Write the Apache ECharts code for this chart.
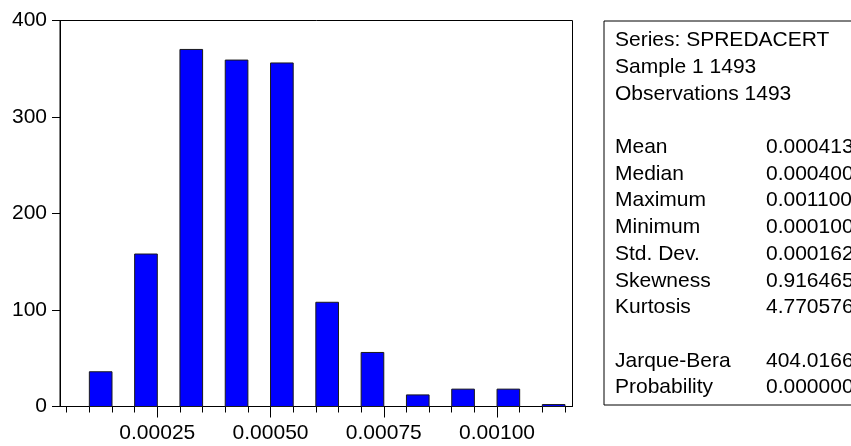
<!DOCTYPE html>
<html>
<head>
<meta charset="utf-8">
<script src="https://cdn.jsdelivr.net/npm/echarts@6/dist/echarts.min.js"></script>
<style>
html,body{margin:0;padding:0;background:#fff;}
#chart{width:851px;height:446px;}
</style>
</head>
<body>
<div id="chart"></div>
<script>
// Histogram bins (left edge of each bin) and counts
const binStarts = [0.0001, 0.0002, 0.0003, 0.0004, 0.0005, 0.0006, 0.0007, 0.0008, 0.0009, 0.0010, 0.0011];
const counts    = [36, 158, 370, 359, 356, 108, 56, 12, 18, 18, 2];
const binWidth  = 0.00005;

// Axis ticks
const xMinorTicks = [0.00005, 0.0001, 0.00015, 0.0002, 0.00025, 0.0003, 0.00035, 0.0004, 0.00045, 0.0005,
                     0.00055, 0.0006, 0.00065, 0.0007, 0.00075, 0.0008, 0.00085, 0.0009, 0.00095, 0.001,
                     0.00105, 0.0011, 0.00115];
const xTickLabels = [0.00025, 0.0005, 0.00075, 0.001];
const yTicks = [0, 100, 200, 300, 400];

// Statistics panel
const headerLines = ['Series: SPREDACERT', 'Sample 1 1493', 'Observations 1493'];
const statNames  = ['Mean', 'Median', 'Maximum', 'Minimum', 'Std. Dev.', 'Skewness', 'Kurtosis'];
const statValues = ['0.000413', '0.000400', '0.001100', '0.000100', '0.000162', '0.916465', '4.770576'];
const testNames  = ['Jarque-Bera', 'Probability'];
const testValues = ['404.0166', '0.000000'];

const FONT = '"Liberation Sans", Arial, sans-serif';
const FS = 21;

const chart = echarts.init(document.getElementById('chart'), null, {renderer: 'canvas'});

const barData = binStarts.map((b, i) => [b, b + binWidth, counts[i]]);

// build stats text elements
const graphics = [];
const boxLeft = 603.5, boxTop = 20.5, boxBottom = 404.5;
graphics.push({
  type: 'rect', left: boxLeft, top: boxTop,
  shape: {x: 0, y: 0, width: 320, height: boxBottom - boxTop},
  style: {fill: '#fff', stroke: '#000', lineWidth: 1}, z: 10
});
const lineY0 = 40.5, lineStep = 26.7, colName = 615, colVal = 766;
function addText(txt, x, row) {
  graphics.push({
    type: 'text', z: 11,
    x: x, y: lineY0 + row * lineStep,
    style: {text: txt, font: FS + 'px ' + FONT, fill: '#000', align: 'left', verticalAlign: 'middle'}
  });
}
headerLines.forEach((t, i) => addText(t, colName, i));
statNames.forEach((t, i) => { addText(t, colName, 4 + i); addText(statValues[i], colVal, 4 + i); });
testNames.forEach((t, i) => { addText(t, colName, 12 + i); addText(testValues[i], colVal, 12 + i); });

const option = {
  animation: false,
  backgroundColor: '#fff',
  grid: {left: 60, right: 278.5, top: 20.5, bottom: 39.5, show: true, borderColor: '#000', borderWidth: 1, backgroundColor: 'transparent'},
  xAxis: [
    {
      type: 'value', min: 0.0000352, max: 0.0011666, position: 'bottom',
      axisLine: {show: true, lineStyle: {color: '#000', width: 1}},
      axisTick: {show: true, length: 11, customValues: xTickLabels, lineStyle: {color: '#000'}},
      axisLabel: {show: true, customValues: xTickLabels, margin: 16, fontSize: FS, fontFamily: FONT, color: '#000',
                  formatter: v => Number(v).toFixed(5)},
      splitLine: {show: false}
    },
    {
      type: 'value', min: 0.0000352, max: 0.0011666, position: 'bottom', offset: 0,
      axisLine: {show: false},
      axisTick: {show: true, length: 6, customValues: xMinorTicks, lineStyle: {color: '#000'}},
      axisLabel: {show: false},
      splitLine: {show: false}
    }
  ],
  yAxis: {
    type: 'value', min: 0, max: 400, interval: 100,
    axisLine: {show: true, lineStyle: {color: '#000', width: 1}},
    axisTick: {show: true, length: 8, lineStyle: {color: '#000'}},
    axisLabel: {margin: 13, fontSize: FS, fontFamily: FONT, color: '#000'},
    splitLine: {show: false}
  },
  series: [{
    type: 'custom',
    xAxisIndex: 0, yAxisIndex: 0,
    data: barData,
    encode: {x: [0, 1], y: 2},
    renderItem: function (params, api) {
      const p0 = api.coord([api.value(0), 0]);
      const p1 = api.coord([api.value(1), api.value(2)]);
      return {
        type: 'rect',
        shape: {x: p0[0], y: p1[1], width: p1[0] - p0[0], height: p0[1] - p1[1]},
        style: {fill: '#0000ff', stroke: '#1a1a1a', lineWidth: 1}
      };
    }
  }],
  graphic: graphics
};
chart.setOption(option);
</script>
</body>
</html>
